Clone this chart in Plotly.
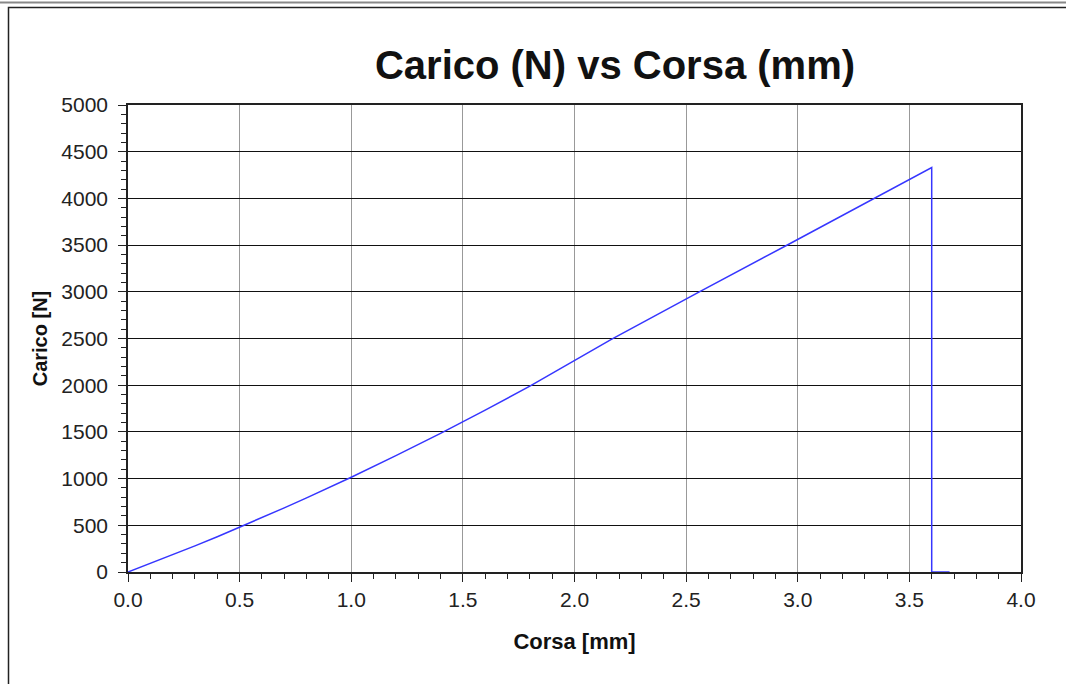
import plotly.graph_objects as go

corsa_mm = [0.0, 0.1, 0.2, 0.3, 0.4, 0.5, 0.6, 0.7, 0.8, 0.9, 1.0, 1.2, 1.4, 1.6, 1.8, 2.165, 2.559, 2.968, 3.362, 3.5, 3.6, 3.6, 3.61, 3.68]
carico_N = [0, 91, 185, 280, 378, 479, 581, 686, 794, 903, 1015, 1246, 1485, 1733, 1990, 2490, 3000, 3520, 4020, 4200, 4330, 0, 0, 0]

x_ticks = [0.0, 0.5, 1.0, 1.5, 2.0, 2.5, 3.0, 3.5, 4.0]
y_ticks = [0, 500, 1000, 1500, 2000, 2500, 3000, 3500, 4000, 4500, 5000]

W, H = 1066, 684
L, R, T, B = 128, 45, 105, 112
PW, PH = W - L - R, H - T - B

def px(x):
    return (x - L) / PW

def py(y):
    return (H - B - y) / PH

fig = go.Figure()
fig.add_trace(go.Scatter(x=corsa_mm, y=carico_N, mode="lines", cliponaxis=False,
                         line=dict(color="#3636ff", width=1.5), showlegend=False))

font = "Liberation Sans, Arial, sans-serif"
fig.update_layout(
    width=W, height=H,
    margin=dict(l=L, r=R, t=T, b=B),
    paper_bgcolor="white", plot_bgcolor="white",
    font=dict(family=font, color="#222222"),
    title=dict(text="<b>Carico (N) vs Corsa (mm)</b>", x=615 / W, xref="container", xanchor="center",
               y=1 - 65 / H, yref="container", yanchor="middle", font=dict(size=40, color="#111111")),
    xaxis=dict(range=[0, 4.0], tickvals=x_ticks, ticktext=[f"{v:.1f}" for v in x_ticks],
               showgrid=True, gridcolor="#999999", gridwidth=1.2, layer="below traces",
               showline=True, linecolor="#222222", linewidth=1.5, mirror=True,
               ticks="outside", ticklen=8, tickcolor="#222222", tickfont=dict(size=21),
               ticklabelstandoff=0,
               minor=dict(dtick=0.1, ticks="outside", ticklen=5, tickcolor="#222222", showgrid=False),
               zeroline=False,
               title=dict(text="<b>Corsa [mm]</b>", font=dict(size=22, color="#111111"), standoff=24)),
    yaxis=dict(range=[0, 5000], tickvals=y_ticks, ticktext=[str(v) for v in y_ticks],
               showgrid=True, gridcolor="#111111", gridwidth=1.2, layer="below traces",
               showline=True, linecolor="#222222", linewidth=1.5, mirror=True,
               ticks="outside", ticklen=8, tickcolor="#222222", tickfont=dict(size=21),
               ticklabelstandoff=6,
               minor=dict(dtick=100, ticks="outside", ticklen=5, tickcolor="#222222", showgrid=False),
               zeroline=False,
               title=dict(text="<b>Carico [N]</b>", font=dict(size=20, color="#111111"), standoff=8)),
)

# document frame around the chart
fig.add_shape(type="line", xref="paper", yref="paper", x0=px(0), x1=px(W), y0=py(2.5), y1=py(2.5),
              line=dict(color="#888888", width=2))
fig.add_shape(type="rect", xref="paper", yref="paper", x0=px(8.5), x1=px(W + 5), y0=py(7.5), y1=py(H + 5),
              line=dict(color="#222222", width=1.5))

fig.write_html("out.html", config={"displayModeBar": False},
               post_script="document.body.style.margin='0';")
